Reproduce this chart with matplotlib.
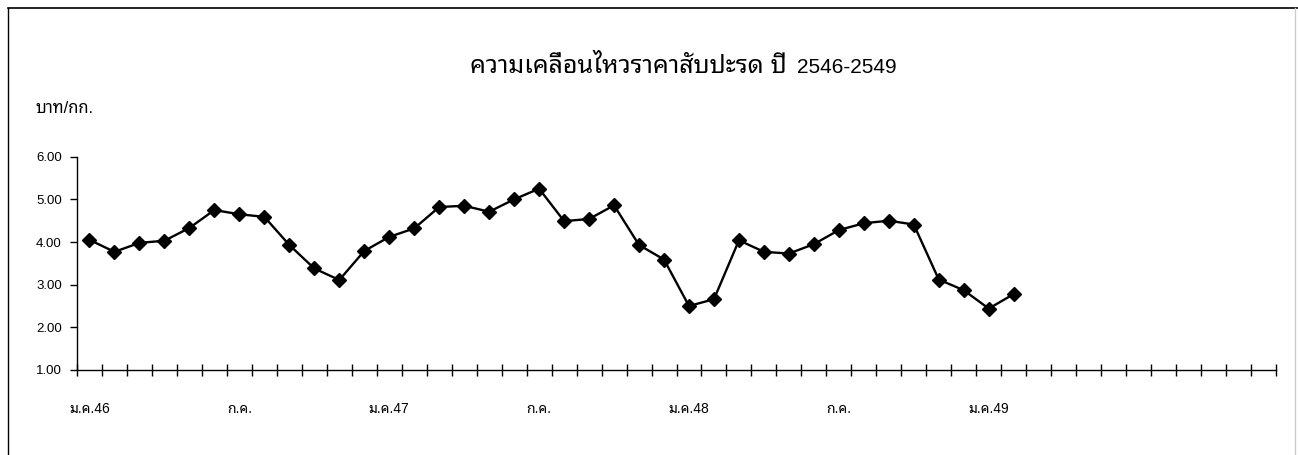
import numpy as np
import matplotlib
matplotlib.use("Agg")
import matplotlib.pyplot as plt
from matplotlib import font_manager
from matplotlib.ft2font import FT2Font
from matplotlib.lines import Line2D

# pineapple price, baht/kg, Jan 2546 - Feb 2549 (monthly)
prices = [4.05, 3.77, 3.98, 4.03, 4.33, 4.75, 4.65, 4.59, 3.93, 3.38, 3.11, 3.79,
          4.12, 4.32, 4.82, 4.85, 4.71, 5.00, 5.25, 4.49, 4.54, 4.86, 3.93, 3.59,
          2.50, 2.66, 4.04, 3.77, 3.73, 3.95, 4.28, 4.44, 4.50, 4.41, 3.12, 2.87,
          2.44, 2.78]
n_months = 48  # axis runs Jan 2546 - Dec 2549
month_labels = ["ม.ค.46", "ก.ค.", "ม.ค.47", "ก.ค.", "ม.ค.48", "ก.ค.", "ม.ค.49"]
label_every = 6
yticks = [1.00, 2.00, 3.00, 4.00, 5.00, 6.00]

title_thai = "ความเคลื่อนไหวราคาสับปะรด ปี"
title_years = "2546-2549"
unit = "บาท/กก."


def thai_font():
    # pick a font that actually has Thai glyphs
    found = []
    for fe in font_manager.fontManager.ttflist:
        try:
            cmap = FT2Font(fe.fname).get_charmap()
        except Exception:
            continue
        if 0x0E04 in cmap and 0x0E40 in cmap:
            found.append(fe.name)
    prefer = ["Noto Sans Thai Looped", "Loma", "Garuda", "Tahoma",
              "Noto Sans Thai", "Noto Sans Thai UI", "Norasi"]
    for p in prefer:
        if p in found:
            return p
    return found[0] if found else None


tf = thai_font()
fams = ["Liberation Sans"] + ([tf] if tf else []) + ["DejaVu Sans"]
plt.rcParams['font.family'] = fams

fig = plt.figure(figsize=(12.98, 4.55), dpi=100)
ax = fig.add_axes([77 / 1298, 1 - 370 / 455, (1276 - 77) / 1298, (370 - 156.7) / 455])

x = np.arange(len(prices))
ax.plot(x, prices, color="black", lw=1.7, marker="D", ms=7.4,
        mfc="black", mec="black", clip_on=False)

ax.set_xlim(-0.5, n_months - 0.5)
ax.set_ylim(1, 6)
for s in ["top", "right"]:
    ax.spines[s].set_visible(False)
ax.spines["left"].set_linewidth(1.0)
ax.spines["bottom"].set_linewidth(1.0)

ax.set_yticks(yticks)
ax.set_yticklabels([f"{v:.2f}" for v in yticks], fontsize=9.5)
ax.tick_params(axis="y", direction="out", length=5, width=1, pad=6)

ax.set_xticks(np.arange(0, len(month_labels) * label_every, label_every))
ax.set_xticklabels(month_labels, fontsize=10)
ax.set_xticks(np.arange(-0.5, n_months, 1), minor=True)
ax.tick_params(axis="x", which="major", length=0, pad=23)
ax.tick_params(axis="x", which="minor", direction="inout", length=9, width=1)

# title in two pieces: the Thai part is set wider than the digits
fig.text(787 / 1298, 1 - 73 / 455, title_thai, ha="right", va="baseline",
         fontsize=18, fontweight="bold")
fig.text(797 / 1298, 1 - 73 / 455, title_years, ha="left", va="baseline",
         fontsize=15)
fig.text(35 / 1298, 1 - 113 / 455, unit, ha="left", va="baseline", fontsize=12)

# scanned frame around the chart
fig.add_artist(Line2D([8 / 1298, 8 / 1298], [0, 1 - 8 / 455], color="black", lw=1))
fig.add_artist(Line2D([8 / 1298, 1], [1 - 8 / 455, 1 - 8 / 455], color="black", lw=1.2))
fig.add_artist(Line2D([1295 / 1298, 1295 / 1298], [0, 1 - 8 / 455], color="#cccccc", lw=1))

fig.savefig("out.png", dpi=100)
